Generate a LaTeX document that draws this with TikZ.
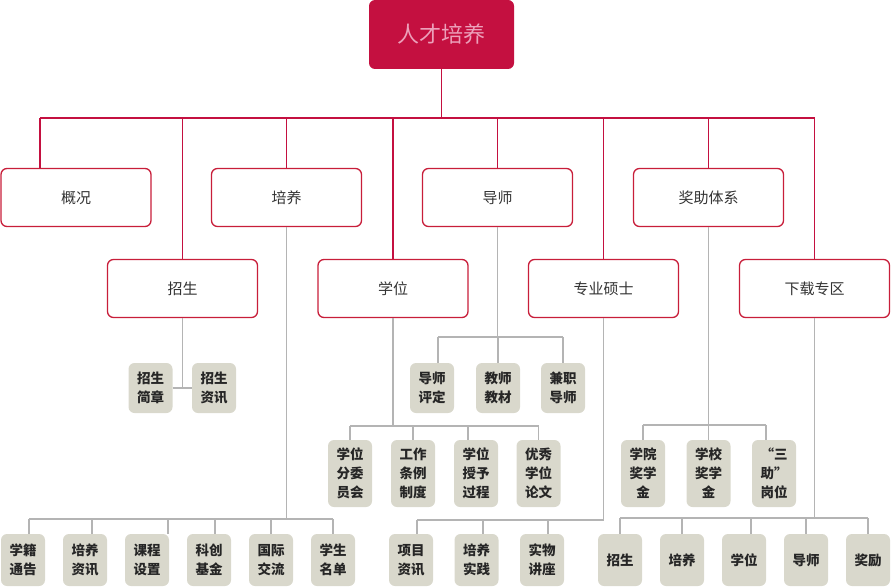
\documentclass[tikz,border=0pt]{standalone}
\usepackage{fontspec}
\setmainfont{Noto Sans CJK SC}
\usetikzlibrary{calc}
\definecolor{crim}{RGB}{196,16,64}
\definecolor{redbd}{RGB}{200,30,58}
\definecolor{grline}{RGB}{180,180,180}
\definecolor{leaffill}{RGB}{217,216,204}
\definecolor{toptext}{RGB}{236,160,186}
\definecolor{boxtext}{RGB}{51,51,51}
\begin{document}
\begin{tikzpicture}[x=1pt,y=-1pt,
  topbox/.style={fill=crim,draw=none,rounded corners=6pt,minimum width=145pt,minimum height=69pt,inner sep=0pt,text=toptext,font=\fontsize{22}{26}\selectfont},
  redbox/.style={draw=redbd,line width=1.3pt,fill=white,rounded corners=6pt,minimum width=150pt,minimum height=58pt,inner sep=0pt,text=boxtext,font=\fontsize{15}{18}\selectfont},
  leaf/.style={fill=leaffill,draw=none,rounded corners=6pt,minimum width=44pt,inner sep=0pt,align=center,text=black!85,font=\bfseries\fontsize{13.5}{19}\selectfont},
  leafA/.style={leaf,minimum height=50pt},
  leafB/.style={leaf,minimum height=67pt},
  leafC/.style={leaf,minimum height=52pt},
  rline/.style={draw=crim,line width=1.8pt},
  gline/.style={draw=grline,line width=1.5pt}]
\useasboundingbox (0,0) rectangle (891,586);

% top
\node[topbox] (top) at (441.5,34.5) {人才培养};

% row 1
\node[redbox] (gk) at (76,197.5) {概况};
\node[redbox] (py) at (286.5,197.5) {培养};
\node[redbox] (ds) at (497.5,197.5) {导师};
\node[redbox] (jz) at (708.5,197.5) {奖助体系};
% row 2
\node[redbox] (zs) at (182.5,288.5) {招生};
\node[redbox] (xw) at (393,288.5) {学位};
\node[redbox] (zy) at (603.5,288.5) {专业硕士};
\node[redbox] (xz) at (814.5,288.5) {下载专区};

% red connectors
\coordinate (busL) at (40,118);
\coordinate (busR) at (815,118);
\draw[rline] (top.south) -- (top.south |- busL);
\draw[rline] (busL) -- (busR);
\draw[rline] (busL) -- (busL |- gk.north);
\foreach \n in {py,ds,jz,zs,xw,zy,xz}{
  \draw[rline] (\n.north |- busL) -- (\n.north);
}

% leaves: 招生
\node[leafA] (zs1) at (150.5,388) {招生\\简章};
\node[leafA] (zs2) at (214,388) {招生\\资讯};
% 导师
\node[leafA] (ds1) at (432,388) {导师\\评定};
\node[leafA] (ds2) at (498,388) {教师\\教材};
\node[leafA] (ds3) at (563,388) {兼职\\导师};
% 学位
\node[leafB] (xw1) at (350,473.5) {学位\\分委\\员会};
\node[leafB] (xw2) at (413,473.5) {工作\\条例\\制度};
\node[leafB] (xw3) at (476,473.5) {学位\\授予\\过程};
\node[leafB] (xw4) at (538.5,473.5) {优秀\\学位\\论文};
% 奖助体系
\node[leafB] (jz1) at (643,473.5) {学院\\奖学\\金};
\node[leafB] (jz2) at (708.5,473.5) {学校\\奖学\\金};
\node[leafB] (jz3) at (774,473.5) {“三\\助”\\岗位};
% 培养
\node[leafC] (py1) at (23,560) {学籍\\通告};
\node[leafC] (py2) at (85,560) {培养\\资讯};
\node[leafC] (py3) at (147,560) {课程\\设置};
\node[leafC] (py4) at (209,560) {科创\\基金};
\node[leafC] (py5) at (271,560) {国际\\交流};
\node[leafC] (py6) at (333,560) {学生\\名单};
% 专业硕士
\node[leafC] (zy1) at (411,560) {项目\\资讯};
\node[leafC] (zy2) at (476.5,560) {培养\\实践};
\node[leafC] (zy3) at (542,560) {实物\\讲座};
% 下载专区
\node[leafC] (xz1) at (620,560) {招生};
\node[leafC] (xz2) at (682,560) {培养};
\node[leafC] (xz3) at (744,560) {学位};
\node[leafC] (xz4) at (806,560) {导师};
\node[leafC] (xz5) at (868,560) {奖励};

% gray connectors: 招生
\draw[gline] (zs.south) -- (zs.south |- zs1.east);
\draw[gline] (zs1.east) -- (zs2.west);

% 导师
\coordinate (dsb) at (497.5,337);
\coordinate (ds1d) at ([xshift=6pt]ds1.north);
\draw[gline] (ds.south) -- (dsb);
\draw[gline] (ds1d |- dsb) -- (ds3.north |- dsb);
\draw[gline] (ds1d |- dsb) -- (ds1d);
\draw[gline] (ds2.north |- dsb) -- (ds2.north);
\draw[gline] (ds3.north |- dsb) -- (ds3.north);

% 学位
\coordinate (xwb) at (393,426);
\coordinate (xw3d) at ([xshift=-8pt]xw3.north);
\draw[gline] (xw.south) -- (xwb);
\draw[gline] (xw1.north |- xwb) -- (xw4.north |- xwb);
\draw[gline] (xw1.north |- xwb) -- (xw1.north);
\draw[gline] (xw2.north |- xwb) -- (xw2.north);
\draw[gline] (xw3d |- xwb) -- (xw3d);
\draw[gline] (xw4.north |- xwb) -- (xw4.north);

% 奖助体系
\coordinate (jzb) at (708.5,425);
\coordinate (jz3d) at ([xshift=-8pt]jz3.north);
\draw[gline] (jz.south) -- (jzb);
\draw[gline] (jz1.north |- jzb) -- (jz3d |- jzb);
\draw[gline] (jz1.north |- jzb) -- (jz1.north);
\draw[gline] (jz2.north |- jzb) -- (jz2.north);
\draw[gline] (jz3d |- jzb) -- (jz3d);

% 培养
\coordinate (pyb) at (286.5,519);
\coordinate (py1d) at ([xshift=6pt]py1.north);
\coordinate (py2d) at ([xshift=7pt]py2.north);
\coordinate (py3d) at ([xshift=21pt]py3.north);
\coordinate (py4d) at ([xshift=6pt]py4.north);
\draw[gline] (py.south) -- (pyb);
\draw[gline] (py1d |- pyb) -- (py6.north |- pyb);
\foreach \d in {py1d,py2d,py3d,py4d}{
  \draw[gline] (\d |- pyb) -- (\d);
}
\draw[gline] (py5.north |- pyb) -- (py5.north);
\draw[gline] (py6.north |- pyb) -- (py6.north);

% 专业硕士
\coordinate (zyb) at (603.5,520);
\coordinate (zy1d) at ([xshift=6pt]zy1.north);
\coordinate (zy2d) at ([xshift=6.5pt]zy2.north);
\coordinate (zy3d) at ([xshift=6pt]zy3.north);
\draw[gline] (zy.south) -- (zyb);
\draw[gline] (zy1d |- zyb) -- (zyb);
\foreach \d in {zy1d,zy2d,zy3d}{
  \draw[gline] (\d |- zyb) -- (\d);
}

% 下载专区
\coordinate (xzb) at (814.5,518);
\coordinate (xz3d) at ([xshift=7pt]xz3.north);
\draw[gline] (xz.south) -- (xzb);
\draw[gline] (xz1.north |- xzb) -- (xz5.north |- xzb);
\draw[gline] (xz1.north |- xzb) -- (xz1.north);
\draw[gline] (xz2.north |- xzb) -- (xz2.north);
\draw[gline] (xz3d |- xzb) -- (xz3d);
\draw[gline] (xz4.north |- xzb) -- (xz4.north);
\draw[gline] (xz5.north |- xzb) -- (xz5.north);
\end{tikzpicture}
\end{document}
